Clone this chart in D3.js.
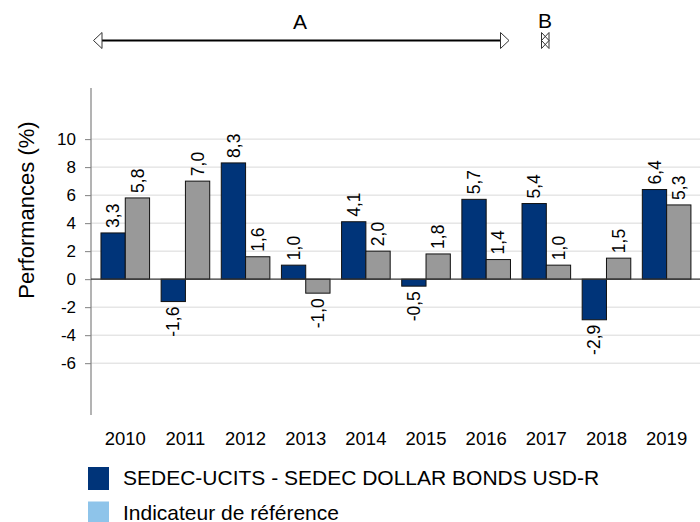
<!DOCTYPE html>
<html><head><meta charset="utf-8">
<script src="https://cdn.jsdelivr.net/npm/d3@7"></script>
<style>body{margin:0;background:#fff;}svg{display:block;font-family:"Liberation Sans",Arial,sans-serif;}</style>
</head><body>
<svg id="c" width="700" height="522"></svg>
<script>
const years = ["2010","2011","2012","2013","2014","2015","2016","2017","2018","2019"];
const fundValues = [3.3, -1.6, 8.3, 1.0, 4.1, -0.5, 5.7, 5.4, -2.9, 6.4];
const indexValues = [5.8, 7.0, 1.6, -1.0, 2.0, 1.8, 1.4, 1.0, 1.5, 5.3];
const yTicks = [-6, -4, -2, 0, 2, 4, 6, 8, 10];
const seriesNames = ["SEDEC-UCITS - SEDEC DOLLAR BONDS USD-R", "Indicateur de référence"];
const periodLabels = ["A", "B"];

const svg = d3.select("#c");
const x = d3.scaleBand().domain(years).range([95.2, 696.7]).padding(0);
const y = d3.scaleLinear().domain([-9.7, 13.65]).range([415, 88]);
const barW = 24.3;
const fmt = v => v.toFixed(1).replace(".", ",");

// gridlines
svg.append("g").selectAll("line").data(yTicks.filter(t => t !== 0)).join("line")
  .attr("x1", 91).attr("x2", 700).attr("y1", d => y(d)).attr("y2", d => y(d))
  .attr("stroke", "#d9d9d9").attr("stroke-width", 1);

// y axis
const yAxis = d3.axisLeft(y).tickValues(yTicks).tickSize(6).tickPadding(9).tickFormat(d => String(d));
const ga = svg.append("g").attr("transform", "translate(91,0)").call(yAxis);
ga.select(".domain").remove();
ga.selectAll(".tick line").attr("stroke", "#808080");
ga.selectAll(".tick text").attr("font-size", 17).attr("fill", "#000").attr("font-family", "Liberation Sans, Arial, sans-serif");
svg.append("line").attr("x1", 91).attr("x2", 91).attr("y1", y.range()[1]).attr("y2", y.range()[0])
  .attr("stroke", "#808080").attr("stroke-width", 1.2);

// bars
const groups = [
  {vals: fundValues, color: "#003479", off: -barW},
  {vals: indexValues, color: "#999999", off: 0}
];
groups.forEach(g => {
  svg.append("g").selectAll("rect").data(years).join("rect")
    .attr("x", (d) => x(d) + x.bandwidth()/2 + g.off)
    .attr("width", barW)
    .attr("y", (d, i) => y(Math.max(0, g.vals[i])))
    .attr("height", (d, i) => Math.abs(y(g.vals[i]) - y(0)))
    .attr("fill", g.color).attr("stroke", "#111").attr("stroke-width", 1);
  svg.append("g").selectAll("text").data(years).join("text")
    .attr("transform", (d, i) => {
      const v = g.vals[i];
      const cx = x(d) + x.bandwidth()/2 + g.off + barW/2;
      const yy = v >= 0 ? y(v) - 5 : y(v) + 5;
      return `translate(${cx},${yy}) rotate(-90)`;
    })
    .attr("text-anchor", (d, i) => g.vals[i] >= 0 ? "start" : "end")
    .attr("dy", "0.35em")
    .attr("font-size", 17.5)
    .text((d, i) => fmt(g.vals[i]));
});

// zero line
svg.append("line").attr("x1", 91).attr("x2", 700).attr("y1", y(0)).attr("y2", y(0))
  .attr("stroke", "#333").attr("stroke-width", 1.2);

// x labels
svg.append("g").selectAll("text").data(years).join("text")
  .attr("x", d => x(d) + x.bandwidth()/2).attr("y", 445)
  .attr("text-anchor", "middle").attr("font-size", 18.5).text(d => d);

// y title
svg.append("text").attr("transform", "translate(34,210) rotate(-90)")
  .attr("text-anchor", "middle").attr("font-size", 22).text("Performances (%)");

// annotation A arrow
const ay = 40.5;
svg.append("line").attr("x1", 101).attr("x2", 501).attr("y1", ay).attr("y2", ay)
  .attr("stroke", "#000").attr("stroke-width", 2);
svg.append("path").attr("d", `M93.5,${ay} L102,${ay-8} L102,${ay+8} Z`)
  .attr("fill", "#fff").attr("stroke", "#333").attr("stroke-width", 1);
svg.append("path").attr("d", `M509,${ay} L500.5,${ay-8} L500.5,${ay+8} Z`)
  .attr("fill", "#fff").attr("stroke", "#333").attr("stroke-width", 1);
svg.append("text").attr("x", 300).attr("y", 29).attr("text-anchor", "middle").attr("font-size", 21).text(periodLabels[0]);
// B marker
svg.append("path").attr("d", `M541.5,${ay} L549,${ay-8} L549,${ay+8} Z M549,${ay} L541.5,${ay-8} L541.5,${ay+8} Z`)
  .attr("fill", "none").attr("stroke", "#333").attr("stroke-width", 1);
svg.append("text").attr("x", 545).attr("y", 28).attr("text-anchor", "middle").attr("font-size", 21).text(periodLabels[1]);

// legend
const legColors = ["#003479", "#8EC4EA"];
seriesNames.forEach((n, i) => {
  const ly = 467 + i * 34.5;
  svg.append("rect").attr("x", 88).attr("y", ly).attr("width", 21).attr("height", 23).attr("fill", legColors[i]);
  svg.append("text").attr("x", 123).attr("y", ly + 18).attr("font-size", 21).text(n);
});
</script>
</body></html>
